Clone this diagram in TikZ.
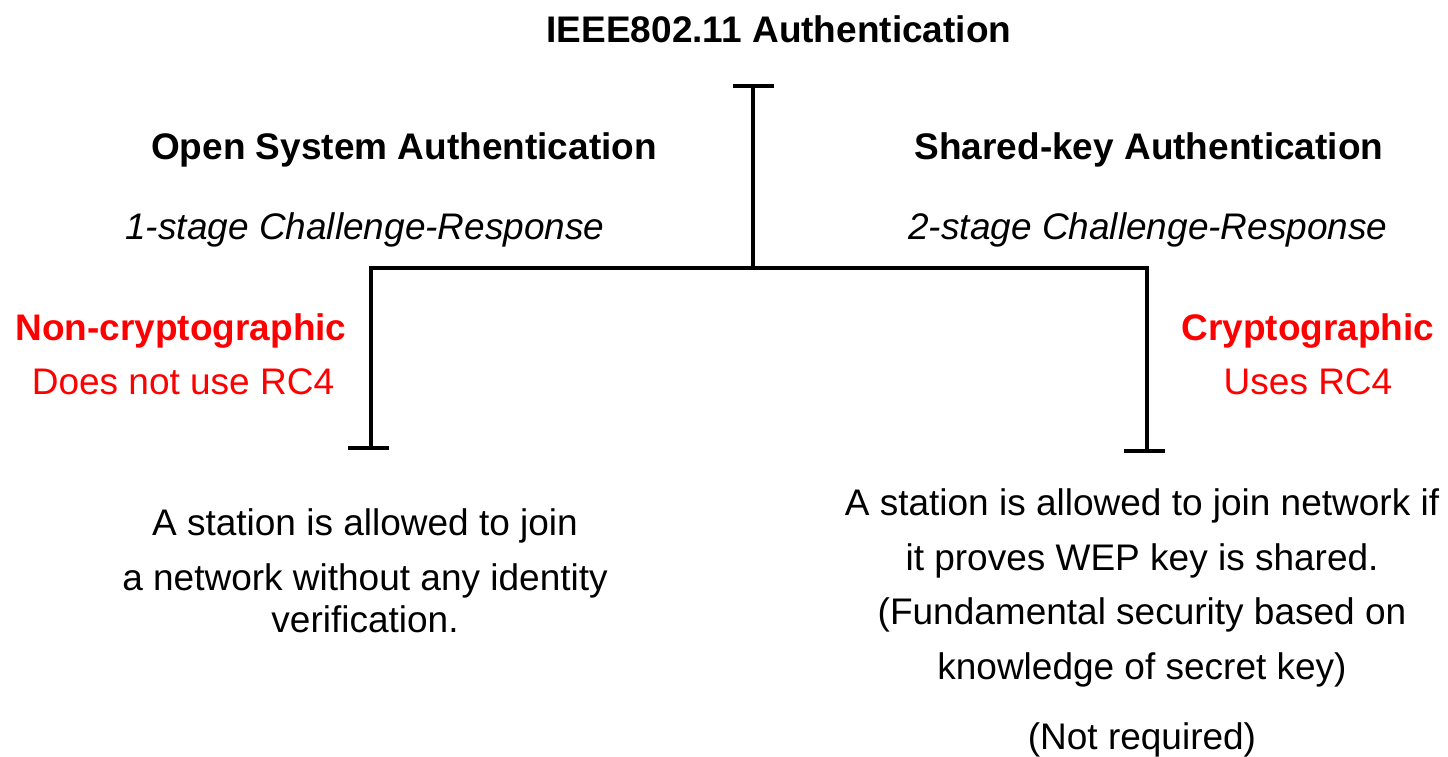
\documentclass[tikz,border=0pt]{standalone}
\usepackage{fontspec}
\setmainfont{Liberation Sans}
\definecolor{tred}{RGB}{255,0,0}
\begin{document}
\begin{tikzpicture}[x=1pt,y=-1pt,
  txt/.style={anchor=base,inner sep=0pt,font=\fontsize{37}{44}\selectfont},
  bold/.style={txt,font=\fontsize{37}{44}\selectfont\bfseries},
  ital/.style={txt,font=\fontsize{37}{44}\selectfont\itshape},
  redb/.style={bold,text=tred},
  redr/.style={txt,text=tred},
  wire/.style={line width=4.3pt,line cap=butt}]
\useasboundingbox (0,0) rectangle (1448,756);
% texts
\node[bold] (title) at (779,42) {IEEE802.11 Authentication};
\node[bold] (open) at (404,159) {Open System Authentication};
\node[bold] (shared) at (1149,159) {Shared-key Authentication};
\node[ital] (one) at (365,239) {1-stage Challenge-Response};
\node[ital] (two) at (1148,239) {2-stage Challenge-Response};
\node[redb] (noncr) at (181,340) {Non-cryptographic};
\node[redr] (norc) at (183,394) {Does not use RC4};
\node[redb] (cr) at (1308,340) {Cryptographic};
\node[redr] (userc) at (1308,394) {Uses RC4};
\node[txt] (l1) at (365,535) {A station is allowed to join};
\node[txt] (l2) at (365,590) {a network without any identity};
\node[txt] (l3) at (365,632) {verification.};
\node[txt] (r1) at (1142,515) {A station is allowed to join network if};
\node[txt] (r2) at (1142,570) {it proves WEP key is shared.};
\node[txt] (r3) at (1142,624) {(Fundamental security based on};
\node[txt] (r4) at (1142,679) {knowledge of secret key)};
\node[txt] (r5) at (1142,749) {(Not required)};
% tree structure
\coordinate (topbarL) at (733,86);
\coordinate (topbarR) at (774,86);
\coordinate (top) at (753,86);
\coordinate (mid) at (753,268);
\coordinate (hl) at (371,268);
\coordinate (hr) at (1147,268);
\coordinate (lb) at (371,448);
\coordinate (lbL) at (348,448);
\coordinate (lbR) at (389,448);
\coordinate (rb) at (1147,451);
\coordinate (rbL) at (1124,451);
\coordinate (rbR) at (1165,451);
\draw[wire] (topbarL) -- (topbarR);
\draw[wire] (top) -- (mid);
\draw[wire,line cap=rect] (hl) -- (hr);
\draw[wire] (hl) -- (lb);
\draw[wire] (hr) -- (rb);
\draw[wire] (lbL) -- (lbR);
\draw[wire] (rbL) -- (rbR);
\end{tikzpicture}
\end{document}
